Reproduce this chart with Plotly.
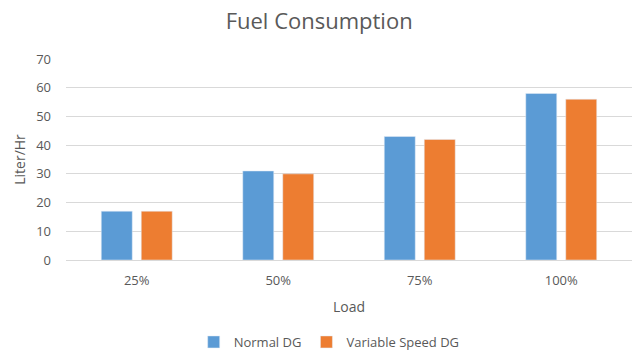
import plotly.graph_objects as go

categories = ["25%", "50%", "75%", "100%"]
normal_dg = [17, 31, 43, 58]
variable_dg = [17, 30, 42, 56]
y_ticks = [0, 10, 20, 30, 40, 50, 60, 70]

FONT = "Open Sans"
GREY = "#595959"

fig = go.Figure()
fig.add_trace(go.Bar(x=categories, y=normal_dg, name="Normal DG", marker_color="#5b9bd5"))
fig.add_trace(go.Bar(x=categories, y=variable_dg, name="Variable Speed DG", marker_color="#ed7d31"))

fig.update_layout(
    width=632, height=356,
    margin=dict(l=66, r=0, t=59, b=96, autoexpand=False),
    paper_bgcolor="white", plot_bgcolor="white",
    barmode="group", bargap=0.435, bargroupgap=0.225,
    font=dict(family=FONT, color=GREY, size=13),
    title=dict(text="Fuel Consumption", x=0.505, xanchor="center", y=1 - 21 / 356, yanchor="middle",
               yref="container", font=dict(size=22, color=GREY, family=FONT)),
    showlegend=True,
    legend=dict(orientation="h", x=0.465, xanchor="center", y=1 - 342 / 356, yanchor="middle",
                yref="container", font=dict(size=13, color=GREY), traceorder="normal",
                itemwidth=30),
    xaxis=dict(title=dict(text="Load", standoff=14, font=dict(size=14, color=GREY)),
               showline=True, linecolor="#d9d9d9", ticks="", ticklabelstandoff=8,
               tickfont=dict(size=13, color=GREY)),
    yaxis=dict(title=dict(text="Liter/Hr", standoff=7, font=dict(size=14, color=GREY)),
               range=[0, 70], tickvals=y_ticks, showgrid=True, gridcolor="#d9d9d9",
               zeroline=False, ticks="", ticklabelstandoff=14, tickfont=dict(size=13, color=GREY)),
)

fig.write_html(
    "out.html",
    config={"displayModeBar": False},
    post_script="document.body.style.margin='0';document.body.style.overflow='hidden';",
)
